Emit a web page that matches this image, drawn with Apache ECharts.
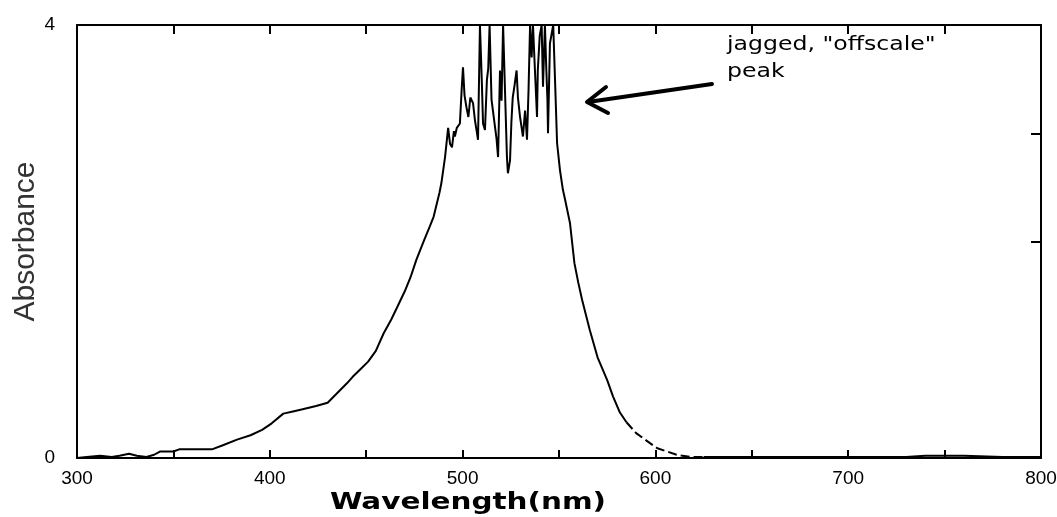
<!DOCTYPE html>
<html>
<head>
<meta charset="utf-8">
<script src="https://cdn.jsdelivr.net/npm/echarts@6/dist/echarts.min.js"></script>
<style>
html,body{margin:0;padding:0;background:#fff;}
#chart{width:1057px;height:517px;}
</style>
</head>
<body>
<div id="chart"></div>
<script>
// wavelength (nm) and absorbance
const wavelength = [300,305,312,318,322,327,331,336,340,343,350,353,362,370,376,383,390,396,401,407,412,417,424,430,435,440,443,447,451,455,459,463,466,470,473,476,480,483,485,488,489,
490.9,492.5,493.5,494.5,495.5,496,497,498.6,499.5,500.2,501,502,503,504,505.4,506.4,507.3,508,509,510,510.6,511.6,512.6,513.3,514,515,515.8,516.8,517.6,518.4,519.4,520.2,521,522,523,523.5,524.6,525.3,526,527,528,528.7,529.8,531.3,532.4,533.4,534.2,535,535.8,536.5,537.6,538.6,539,540,541,541.7,542.7,543.4,544,544.3,545.3,546,547,548,549,550.5,552,
553,555.7,558,560,562,566,570,575,578,581.6,585];
const absorbance = [0.00,0.01,0.02,0.01,0.02,0.04,0.02,0.01,0.03,0.06,0.06,0.08,0.08,0.08,0.12,0.17,0.21,0.26,0.32,0.41,0.43,0.45,0.48,0.51,0.60,0.69,0.75,0.82,0.89,0.99,1.15,1.28,1.39,1.54,1.67,1.83,2.01,2.14,2.23,2.45,2.54,
2.78,3.05,2.90,2.87,3.02,2.97,3.05,3.09,3.40,3.61,3.35,3.24,3.15,3.33,3.28,3.12,3.02,2.94,4.0,3.46,3.09,3.03,3.49,3.6,4.0,3.31,3.2,3.06,2.95,2.78,3.58,3.3,4.0,4.0,2.78,2.63,2.75,3.1,3.33,3.45,3.58,3.33,3.15,2.97,3.21,2.94,3.4,4.0,3.7,4.0,3.55,3.15,3.58,3.9,4.0,3.43,4.0,3.6,3.31,3.0,3.83,3.9,4.0,3.46,2.91,2.66,2.48,
2.40,2.17,1.80,1.62,1.46,1.18,0.93,0.72,0.57,0.42,0.33];
// faint, broken-looking part of the band edge
const tailWavelength = [585,590,597,601,606,611,618,625];
const tailAbsorbance = [0.33,0.23,0.14,0.09,0.06,0.03,0.01,0.01];
// flat baseline beyond the band
const baseWavelength = [625,640,660,700,730,740,760,780,800];
const baseAbsorbance = [0.01,0.01,0.01,0.01,0.01,0.02,0.02,0.01,0.01];
const xTickLabels = [300,400,500,600,700,800];
const yTickLabels = [0,4];
const rightTicks = [2,3];

const zip = (a,b) => a.map((v,i)=>[v,b[i]]);
const chart = echarts.init(document.getElementById('chart'));
const lineAx = {show:true, onZero:false, lineStyle:{color:'#000', width:2}};
const lineSeries = (d, type) => ({
  type:'line', xAxisIndex:0, yAxisIndex:0, data:d,
  showSymbol:false, symbol:'none', clip:true,
  lineStyle:{color:'#000', width:2, type:type}
});
chart.setOption({
  animation:false,
  backgroundColor:'#fff',
  grid:{left:77, right:16, top:25, bottom:59, show:false, containLabel:false, outerBoundsMode:'none'},
  xAxis:[{
    type:'value', position:'bottom', min:300, max:800, interval:50,
    axisLine:lineAx,
    axisTick:{show:true, inside:true, length:8, lineStyle:{color:'#000', width:2}},
    axisLabel:{color:'#000', fontSize:19, fontFamily:'Liberation Sans', margin:11,
      formatter:v => xTickLabels.indexOf(v) >= 0 ? String(v) : ''},
    splitLine:{show:false}
  },{
    type:'value', position:'top', min:300, max:800, interval:50,
    axisLine:lineAx,
    axisTick:{show:true, inside:true, length:9, lineStyle:{color:'#000', width:2}},
    axisLabel:{show:false}, splitLine:{show:false}
  }],
  yAxis:[{
    type:'value', position:'left', min:0, max:4, interval:4,
    name:'Absorbance', nameLocation:'middle', nameGap:36, nameRotate:90, nameMoveOverlap:false,
    nameTextStyle:{color:'#333', fontSize:30, fontFamily:'Liberation Sans'},
    axisLine:lineAx, axisTick:{show:false},
    axisLabel:{color:'#000', fontSize:19, fontFamily:'Liberation Sans', margin:22,
      formatter:v => yTickLabels.indexOf(v) >= 0 ? String(v) : ''},
    splitLine:{show:false}
  },{
    type:'value', position:'right', min:0, max:4, interval:1,
    axisLine:lineAx,
    axisTick:{show:true, inside:true, length:10, customValues:rightTicks, lineStyle:{color:'#000', width:2}},
    axisLabel:{show:false}, splitLine:{show:false}
  }],
  series:[
    lineSeries(zip(wavelength,absorbance), 'solid'),
    lineSeries(zip(tailWavelength,tailAbsorbance), [9,4]),
    lineSeries(zip(baseWavelength,baseAbsorbance), 'solid')
  ],
  graphic:[
    {type:'text', x:468, y:503, scaleX:1.28, style:{text:'Wavelength(nm)', font:'bold 23px "DejaVu Sans"', fill:'#000', textAlign:'center', textVerticalAlign:'middle'}},
    {type:'text', x:727, y:31, scaleX:1.18, style:{text:'jagged, "offscale"\npeak', font:'20px "DejaVu Sans"', fill:'#000', lineHeight:27, textAlign:'left', textVerticalAlign:'top'}},
    {type:'polyline', shape:{points:[[712,84],[650,93],[588,102]]}, style:{stroke:'#000', lineWidth:4, fill:null, lineCap:'round'}},
    {type:'polyline', shape:{points:[[606,87],[587,102],[608,113]]}, style:{stroke:'#000', lineWidth:4, fill:null, lineCap:'round', lineJoin:'round'}}
  ]
});
</script>
</body>
</html>
